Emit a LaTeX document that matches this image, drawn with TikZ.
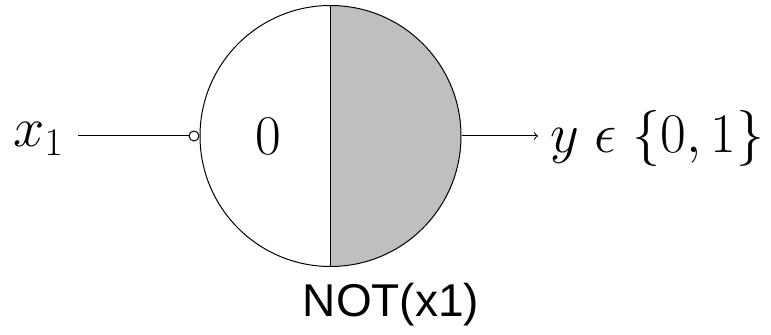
\RequirePackage{fix-cm}
\documentclass[tikz,border=0pt]{standalone}
\usepackage{amsmath}
\usepackage{fontspec}
\newfontfamily\capfont{Liberation Sans}
\usetikzlibrary{arrows}
\begin{document}
\begin{tikzpicture}[x=.5pt,y=-.5pt,line width=.5pt,font=\fontsize{28}{34}\selectfont]
\useasboundingbox (0,0) rectangle (771,335);
\fill[gray!50] (330.5,5.5) arc[start angle=90,end angle=-90,radius=65.25pt] -- cycle;
\node[circle,draw,minimum size=130.5pt,inner sep=0pt] (unit) at (330.5,136) {};
\draw (unit.north)--(unit.south);
\node (zero) at (268,136) {$0$};
\node[circle,draw,inner sep=0pt,minimum size=5pt,anchor=east] (neg) at (unit.west) {};
\node[anchor=base east,inner sep=7pt] (in) at (78,147) {$x_1$};
\draw (neg.west)--(neg.west-|in.east);
\node[anchor=west,inner sep=6pt] (out) at (538,139) {$y\;\epsilon\;\{0,1\}$};
\draw[-to] (unit.east)--(unit.east-|out.west);
\node[anchor=base,font=\capfont\fontsize{23}{27}\selectfont] (name) at (391,317) {NOT(x1)};
\end{tikzpicture}
\end{document}
